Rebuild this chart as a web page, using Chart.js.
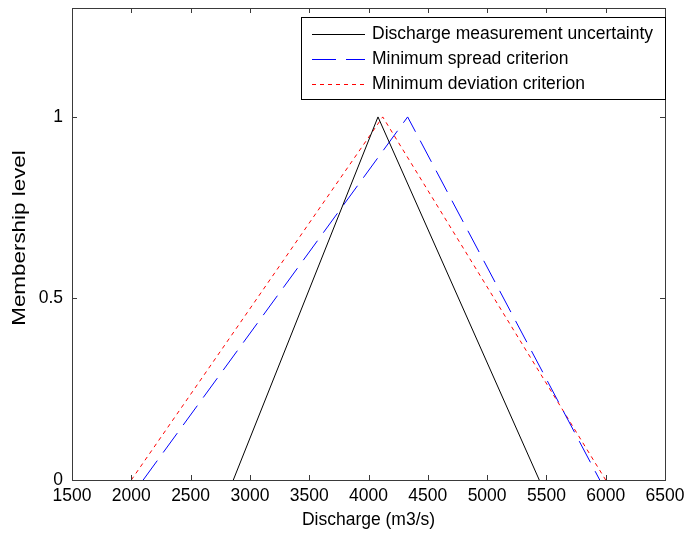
<!DOCTYPE html>
<html>
<head>
<meta charset="utf-8">
<title>Membership level vs discharge</title>
<script src="https://cdn.jsdelivr.net/npm/chart.js@4.4.1/dist/chart.umd.min.js"></script>
<style>
  html, body { margin: 0; padding: 0; background: #fff; }
  #wrap { width: 685px; height: 533px; }
</style>
</head>
<body>
<div id="wrap"><canvas id="membershipChart" width="685" height="533"></canvas></div>
<script>
// ── data ──
const seriesNames = ['Discharge measurement uncertainty', 'Minimum spread criterion', 'Minimum deviation criterion'];
const measurementX = [2860, 4080, 5440];
const measurementY = [0, 1, 0];
const spreadX = [2100, 4330, 5950];
const spreadY = [0, 1, 0];
const deviationX = [2000, 4120, 6000];
const deviationY = [0, 1, 0];
const xTicks = [1500, 2000, 2500, 3000, 3500, 4000, 4500, 5000, 5500, 6000, 6500];
const yTicks = [0, 0.5, 1];
const yTitle = 'Membership level';

const FONT = '"Liberation Sans", Arial, sans-serif';
const FS = 17.5;
const AXIS = '#3a3a3a';

const toPoints = (xs, ys) => xs.map((x, i) => ({ x, y: ys[i] }));

// MATLAB style box with inward ticks on all four sides
const boxPlugin = {
  id: 'matlabBox',
  afterDatasetsDraw(chart) {
    const { ctx, chartArea: a, scales } = chart;
    ctx.save();
    ctx.strokeStyle = AXIS;
    ctx.lineWidth = 1;
    ctx.strokeRect(a.left + 0.5, a.top + 0.5, a.right - a.left, a.bottom - a.top);
    ctx.beginPath();
    scales.x.ticks.forEach(t => {
      const px = Math.round(scales.x.getPixelForValue(t.value)) + 0.5;
      ctx.moveTo(px, a.bottom); ctx.lineTo(px, a.bottom - 5);
      ctx.moveTo(px, a.top); ctx.lineTo(px, a.top + 5);
    });
    scales.y.ticks.forEach(t => {
      const py = Math.round(scales.y.getPixelForValue(t.value)) + 0.5;
      ctx.moveTo(a.left, py); ctx.lineTo(a.left + 5, py);
      ctx.moveTo(a.right, py); ctx.lineTo(a.right - 5, py);
    });
    ctx.stroke();
    ctx.restore();
  }
};

// y label: the source figure has it stretched along its length
const yTitlePlugin = {
  id: 'yTitle',
  afterDraw(chart) {
    const { ctx, chartArea: a } = chart;
    ctx.save();
    ctx.translate(20, (a.top + a.bottom) / 2 - 6);
    ctx.rotate(-Math.PI / 2);
    ctx.scale(1.28, 1);
    ctx.font = FS + 'px ' + FONT;
    ctx.fillStyle = '#000';
    ctx.textAlign = 'center';
    ctx.textBaseline = 'middle';
    ctx.fillText(yTitle, 0, 0);
    ctx.restore();
  }
};

// legend box in the upper right of the axes
const legendPlugin = {
  id: 'matlabLegend',
  afterDraw(chart) {
    const { ctx } = chart;
    const bx = 301, by = 17, bw = 364, bh = 82;
    ctx.save();
    ctx.fillStyle = '#fff';
    ctx.fillRect(bx, by, bw, bh);
    ctx.strokeStyle = '#000';
    ctx.lineWidth = 1;
    ctx.strokeRect(bx + 0.5, by + 0.5, bw, bh);
    ctx.font = FS + 'px ' + FONT;
    ctx.textBaseline = 'middle';
    chart.data.datasets.forEach((ds, i) => {
      const y = by + 17.5 + i * 25;
      ctx.strokeStyle = ds.borderColor;
      ctx.setLineDash(ds.borderDash || []);
      ctx.beginPath();
      ctx.moveTo(312, y); ctx.lineTo(365, y);
      ctx.stroke();
      ctx.setLineDash([]);
      ctx.fillStyle = '#000';
      ctx.fillText(ds.label, 372, y);
    });
    ctx.restore();
  }
};

new Chart(document.getElementById('membershipChart'), {
  type: 'line',
  data: {
    datasets: [
      { label: seriesNames[0], data: toPoints(measurementX, measurementY), borderColor: '#000000', borderWidth: 1 },
      { label: seriesNames[1], data: toPoints(spreadX, spreadY), borderColor: '#0000ff', borderWidth: 1, borderDash: [24, 10] },
      { label: seriesNames[2], data: toPoints(deviationX, deviationY), borderColor: '#ff0000', borderWidth: 1, borderDash: [4, 4] }
    ]
  },
  options: {
    responsive: false,
    animation: false,
    devicePixelRatio: 1,
    elements: { point: { radius: 0, hoverRadius: 0 }, line: { tension: 0, fill: false } },
    layout: { padding: { top: 8, right: 20, left: 0, bottom: 0 } },
    plugins: { legend: { display: false }, tooltip: { enabled: false } },
    scales: {
      x: {
        type: 'linear', min: 1500, max: 6500,
        afterBuildTicks: s => { s.ticks = xTicks.map(v => ({ value: v })); },
        afterFit: s => { s.height = 53; s.paddingLeft = 0; s.paddingRight = 0; },
        grid: { display: false, drawTicks: false },
        border: { display: false },
        ticks: { autoSkip: false, maxRotation: 0, padding: 6, color: '#000', font: { family: FONT, size: FS }, callback: v => String(v) },
        title: { display: true, text: 'Discharge (m3/s)', color: '#000', font: { family: FONT, size: FS }, padding: { top: 0, bottom: 2 } }
      },
      y: {
        type: 'linear', min: 0, max: 1.3,
        afterBuildTicks: s => { s.ticks = yTicks.map(v => ({ value: v })); },
        afterFit: s => { s.width = 72; s.paddingTop = 0; s.paddingBottom = 0; },
        grid: { display: false, drawTicks: false },
        border: { display: false },
        ticks: { padding: 9, color: '#000', font: { family: FONT, size: FS }, callback: v => String(v) }
      }
    }
  },
  plugins: [boxPlugin, yTitlePlugin, legendPlugin]
});
</script>
</body>
</html>
